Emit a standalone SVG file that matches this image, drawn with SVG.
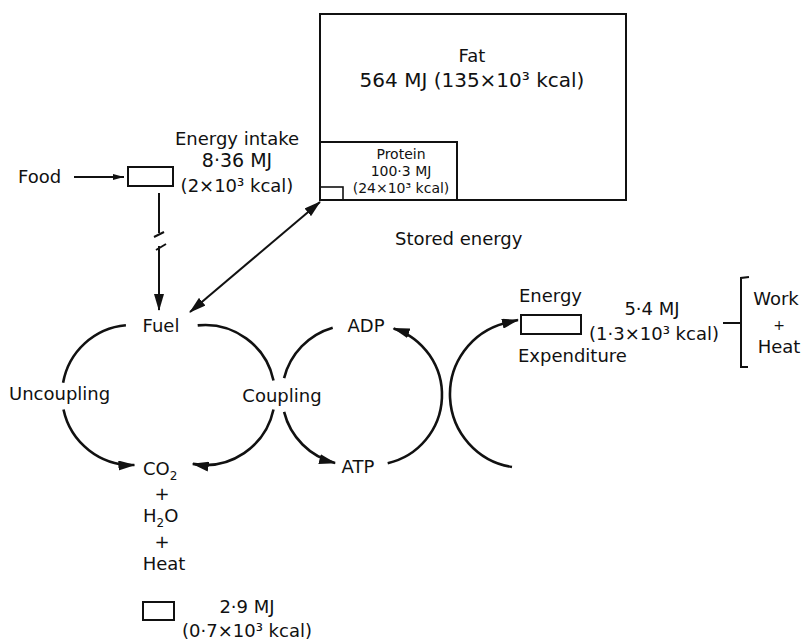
<svg xmlns="http://www.w3.org/2000/svg" width="803" height="640" viewBox="0 0 803 640">
<style>
text{font-family:"DejaVu Sans","Liberation Sans",sans-serif;font-size:18px;fill:#111}
.m{text-anchor:middle}
.p{font-size:14px}
.box{fill:none;stroke:#111;stroke-width:2}
.ln{fill:none;stroke:#111;stroke-width:2}
.arc{fill:none;stroke:#111;stroke-width:2.6}
.sub{font-size:12px}
</style>
<defs>
<marker id="ah" markerUnits="userSpaceOnUse" markerWidth="17" markerHeight="10" refX="16" refY="5" orient="auto-start-reverse" viewBox="0 0 17 10">
<path d="M0,0 L17,5 L0,10 Z" fill="#111"/>
</marker>
<marker id="as" markerUnits="userSpaceOnUse" markerWidth="11" markerHeight="6" refX="11" refY="3" orient="auto" viewBox="0 0 11 6">
<path d="M0,0 L11,3 L0,6 Z" fill="#111"/>
</marker>
</defs>
<rect width="803" height="640" fill="#fff"/>

<g id="stores">
<rect class="box" x="320" y="14" width="306" height="186"/>
<text class="m" x="472" y="62">Fat</text>
<text class="m" x="472" y="87" style="font-size:20px">564 MJ (135×10³ kcal)</text>
</g>
<g id="protein">
<rect class="box" x="320" y="142" width="137" height="58"/>
<text class="m p" x="401" y="159">Protein</text>
<text class="m p" x="401" y="176">100·3 MJ</text>
<text class="m p" x="401" y="193">(24×10³ kcal)</text>
<rect class="box" x="320" y="187" width="23" height="13" style="stroke-width:1.6"/>
</g>
<g id="stored-label"><text x="395" y="245">Stored energy</text></g>

<g id="food"><text x="18" y="183">Food</text></g>
<g id="intake">
<rect class="box" x="128" y="167" width="45" height="19"/>
<text class="m" x="237" y="145">Energy intake</text>
<text class="m" x="237" y="167" style="font-size:19px">8·36 MJ</text>
<text class="m" x="237" y="192">(2×10³ kcal)</text>
</g>

<g id="fuel"><text class="m" x="161" y="332">Fuel</text></g>
<g id="uncoupling"><text x="9" y="400">Uncoupling</text></g>
<g id="coupling"><text class="m" x="282" y="402">Coupling</text></g>
<g id="adp"><text class="m" x="366" y="332">ADP</text></g>
<g id="atp"><text class="m" x="358" y="473">ATP</text></g>

<g id="products">
<text x="143" y="475">CO<tspan class="sub" dy="5">2</tspan></text>
<text class="m" x="162" y="500">+</text>
<text x="143" y="522">H<tspan class="sub" dy="5">2</tspan><tspan dy="-5">O</tspan></text>
<text class="m" x="162" y="548">+</text>
<text class="m" x="164" y="570">Heat</text>
</g>
<g id="heat-loss">
<rect class="box" x="143" y="602" width="31" height="18"/>
<text class="m" x="247" y="613">2·9 MJ</text>
<text class="m" x="247" y="637">(0·7×10³ kcal)</text>
</g>

<g id="expenditure">
<text x="519" y="302">Energy</text>
<rect class="box" x="521" y="315" width="60" height="19"/>
<text x="518" y="362">Expenditure</text>
<text class="m" x="652" y="315">5·4 MJ</text>
<text class="m" x="654" y="340">(1·3×10³ kcal)</text>
</g>
<g id="work-heat">
<text class="m" x="776" y="305">Work</text>
<text class="m" x="779" y="330" style="font-size:14px">+</text>
<text class="m" x="779" y="353">Heat</text>
</g>

<g id="connectors">
<line class="ln" x1="74" y1="177" x2="124" y2="177" marker-end="url(#as)"/>
<line class="ln" x1="159" y1="193" x2="159" y2="233"/>
<line class="ln" x1="154" y1="237" x2="164" y2="232"/>
<line class="ln" x1="156" y1="250" x2="166" y2="244"/>
<line class="ln" x1="159" y1="246" x2="159" y2="310" marker-end="url(#ah)"/>
<line class="ln" x1="190" y1="312" x2="320" y2="202" marker-start="url(#ah)" marker-end="url(#ah)"/>

<path class="arc" d="M125.9,325.3 A70,70 0 0 0 63.1,382.8"/>
<path class="arc" d="M63.5,409.6 A70,70 0 0 0 134.4,465" marker-end="url(#ah)"/>
<path class="arc" d="M197.7,325.4 A70,70 0 0 1 273.5,380.4"/>
<path class="arc" d="M273.5,409.6 A70,70 0 0 1 192.8,463.9" marker-end="url(#ah)"/>
<path class="arc" d="M332.7,327.7 A70,70 0 0 0 284.1,378.1"/>
<path class="arc" d="M284.1,411.9 A70,70 0 0 0 335.1,462.9" marker-end="url(#ah)"/>
<path class="arc" d="M387.7,463.2 A70,70 0 0 0 393.6,328.4" marker-end="url(#ah)"/>
<path class="arc" d="M512,467 A73.6,73.6 0 0 1 504.6,323.2 L518,320" marker-end="url(#ah)"/>

<line class="ln" x1="723" y1="323" x2="741" y2="323"/>
<path class="ln" d="M749,277 L741,278 L741,367 L748,367"/>
</g>
</svg>
